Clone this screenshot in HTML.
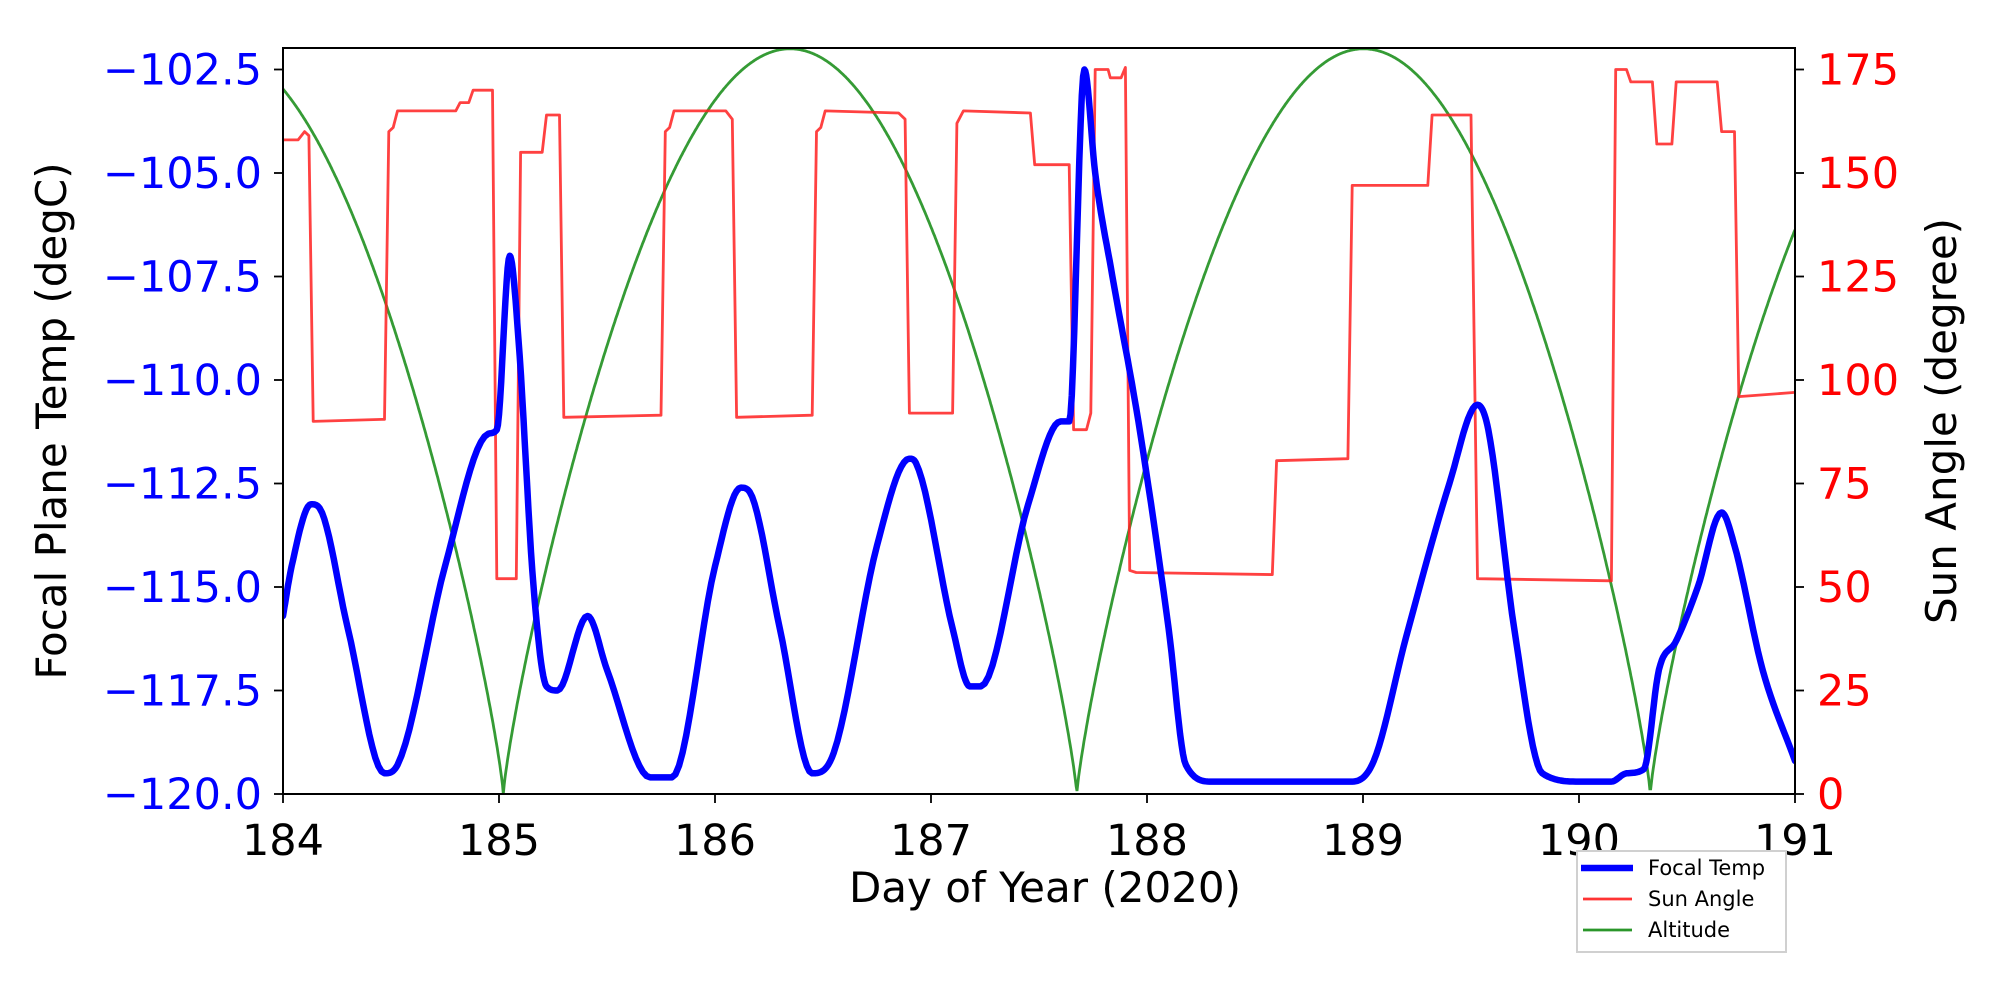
<!DOCTYPE html>
<html><head><meta charset="utf-8"><style>
body{margin:0;background:#fff;}
svg{display:block;font-family:"DejaVu Sans","Liberation Sans",sans-serif;}
</style></head><body>
<svg id="s" width="2000" height="1000" viewBox="0 0 2000 1000" xmlns="http://www.w3.org/2000/svg">
<rect width="2000" height="1000" fill="#fff"/>
<defs><clipPath id="c"><rect x="283" y="44" width="1512" height="754"/></clipPath></defs>
<g clip-path="url(#c)">
<polyline id="alt" fill="none" stroke="#2a962a" stroke-opacity="0.95" stroke-width="2.8"/>
<polyline id="sun" fill="none" stroke="#ff2020" stroke-opacity="0.85" stroke-width="2.8" stroke-linejoin="round"/>
<polyline id="tmp" fill="none" stroke="#0000ff" stroke-width="6.5" stroke-linejoin="round" stroke-linecap="round"/>
</g>
<rect x="283" y="48" width="1512" height="746" fill="none" stroke="#000" stroke-width="2"/>
<g id="ticks" stroke="#000" stroke-width="1.8"></g>
<g id="lbl" font-size="43"></g>
<text transform="translate(66,421) rotate(-90)" text-anchor="middle" font-size="42" fill="#000">Focal Plane Temp (degC)</text>
<text transform="translate(1956,421) rotate(-90)" text-anchor="middle" font-size="42" fill="#000">Sun Angle (degree)</text>
<text x="1045" y="902" text-anchor="middle" font-size="42" fill="#000">Day of Year (2020)</text>
<rect x="1577" y="851" width="209" height="101" fill="#fff" stroke="#d0d0d0" stroke-width="2"/>
<line x1="1581" y1="868" x2="1633" y2="868" stroke="#0000ff" stroke-width="6.5"/>
<line x1="1583" y1="899" x2="1632" y2="899" stroke="#ff3333" stroke-width="2.8"/>
<line x1="1583" y1="930" x2="1632" y2="930" stroke="#2a962a" stroke-width="2.8"/>
<text x="1648" y="875" font-size="21">Focal Temp</text>
<text x="1648" y="906" font-size="21">Sun Angle</text>
<text x="1648" y="937" font-size="21">Altitude</text>
</svg>
<script>
var L=283,R=1795,T=48,B=794;
function X(d){return L+(d-184)*(R-L)/7;}
function YT(t){return 794-(t+120)*41.4;}
function YS(s){return 794-s*103.5/25;}
var ns="http://www.w3.org/2000/svg";
function el(p,tag,a,txt){var e=document.createElementNS(ns,tag);for(var k in a)e.setAttribute(k,a[k]);if(txt!==undefined)e.textContent=txt;p.appendChild(e);return e;}
var tk=document.getElementById('ticks'),lb=document.getElementById('lbl');
for(var d=184;d<=191;d++){var x=X(d);el(tk,'line',{x1:x,y1:B,x2:x,y2:B+9});el(lb,'text',{x:x,y:855,'text-anchor':'middle',fill:'#000'},String(d));}
for(var i=0;i<8;i++){var t=-120+2.5*i,y=YT(t);el(tk,'line',{x1:L-9,y1:y,x2:L,y2:y});el(lb,'text',{x:262,y:y+15,'text-anchor':'end',fill:'#0000ff'},'\u2212'+(-t).toFixed(1));}
for(var i=0;i<8;i++){var s=25*i,y=YS(s);el(tk,'line',{x1:R,y1:y,x2:R+9,y2:y});el(lb,'text',{x:1817,y:y+15,fill:'#ff0000'},String(s));}
var p=[];for(var d=184;d<=191.001;d+=0.004){var v=180*Math.pow(Math.abs(Math.sin(Math.PI*(d-185.02)/2.655)),0.82);p.push(X(d).toFixed(1)+','+YS(v).toFixed(1));}
document.getElementById('alt').setAttribute('points',p.join(' '));
var S=[[184,158],[184.07,158],[184.1,160],[184.12,159],[184.14,90],[184.47,90.5],[184.49,160],[184.51,161],[184.53,165],[184.8,165],[184.82,167],[184.86,167],[184.88,170],[184.97,170],[184.99,52],[185.08,52],[185.1,155],[185.2,155],[185.22,164],[185.28,164],[185.3,91],[185.75,91.5],[185.77,160],[185.79,161],[185.81,165],[186.05,165],[186.08,163],[186.1,91],[186.45,91.5],[186.47,160],[186.49,161],[186.51,165],[186.85,164.5],[186.88,163],[186.9,92],[187.1,92],[187.12,162],[187.15,165],[187.46,164.5],[187.48,152],[187.64,152],[187.66,88],[187.72,88],[187.74,92],[187.76,175],[187.82,175],[187.83,173],[187.88,173],[187.9,175.5],[187.92,54],[187.95,53.5],[188.58,53],[188.6,80.5],[188.93,81],[188.95,147],[189.3,147],[189.32,164],[189.5,164],[189.53,52],[190.15,51.5],[190.17,175],[190.22,175],[190.24,172],[190.34,172],[190.36,157],[190.43,157],[190.45,172],[190.64,172],[190.66,160],[190.72,160],[190.74,96],[191,97]];
p=S.map(function(a){return X(a[0]).toFixed(1)+','+YS(a[1]).toFixed(1);});
document.getElementById('sun').setAttribute('points',p.join(' '));
var K=[[184,-115.7],[184.04,-114.5],[184.13,-113],[184.17,-113.1],[184.3,-116],[184.47,-119.5],[184.53,-119.3],[184.75,-114.5],[184.95,-111.3],[184.99,-111.2],[185.05,-107],[185.09,-109],[185.16,-115],[185.22,-117.4],[185.27,-117.5],[185.41,-115.7],[185.5,-117],[185.7,-119.6],[185.8,-119.6],[186.0,-114.5],[186.12,-112.6],[186.16,-112.7],[186.3,-116],[186.45,-119.5],[186.55,-119],[186.75,-114],[186.9,-111.9],[186.93,-112],[187.1,-116],[187.18,-117.4],[187.23,-117.4],[187.45,-113],[187.6,-111],[187.64,-111],[187.71,-102.5],[187.76,-105],[187.84,-107.5],[187.96,-111],[188.1,-116],[188.18,-119.3],[188.3,-119.7],[188.5,-119.7],[188.95,-119.7],[189.05,-119.2],[189.2,-116.2],[189.4,-112.5],[189.53,-110.6],[189.58,-111.2],[189.7,-116],[189.83,-119.5],[190,-119.7],[190.15,-119.7],[190.22,-119.5],[190.3,-119.4],[190.37,-117],[190.45,-116.3],[190.55,-115],[190.66,-113.2],[190.72,-114],[190.85,-117],[191,-119.2]];
// monotone cubic (Fritsch-Carlson)
var n=K.length,dl=[],m=[];
for(var i=0;i<n-1;i++)dl.push((K[i+1][1]-K[i][1])/(K[i+1][0]-K[i][0]));
m[0]=dl[0];m[n-1]=dl[n-2];
for(var i=1;i<n-1;i++){m[i]=(dl[i-1]*dl[i]<=0)?0:(dl[i-1]+dl[i])/2;}
for(var i=0;i<n-1;i++){if(dl[i]==0){m[i]=0;m[i+1]=0;continue;}var a=m[i]/dl[i],b=m[i+1]/dl[i],s=a*a+b*b;if(s>9){var tt=3/Math.sqrt(s);m[i]=tt*a*dl[i];m[i+1]=tt*b*dl[i];}}
p=[];
for(var i=0;i<n-1;i++){var h=K[i+1][0]-K[i][0];for(var j=0;j<12;j++){var t=j/12,t2=t*t,t3=t2*t;
 var v=(2*t3-3*t2+1)*K[i][1]+(t3-2*t2+t)*h*m[i]+(-2*t3+3*t2)*K[i+1][1]+(t3-t2)*h*m[i+1];
 p.push(X(K[i][0]+h*t).toFixed(1)+','+YT(v).toFixed(1));}}
p.push(X(191).toFixed(1)+','+YT(-119.2).toFixed(1));
document.getElementById('tmp').setAttribute('points',p.join(' '));
</script>
</body></html>
